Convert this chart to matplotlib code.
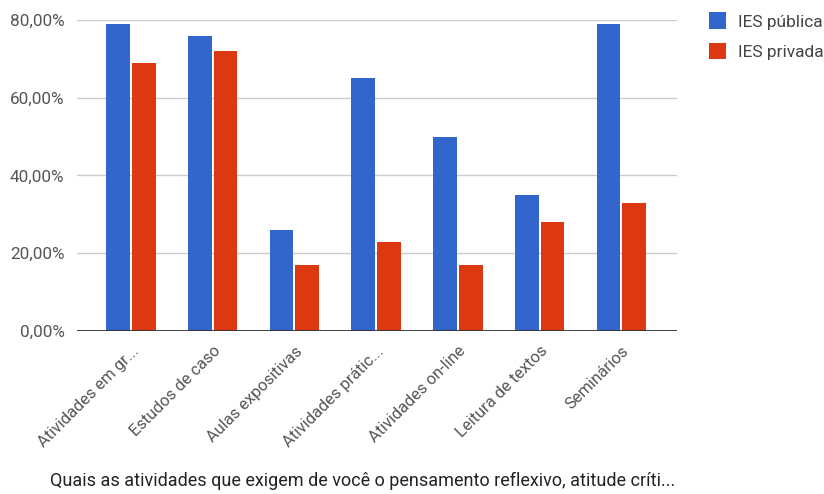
import matplotlib
matplotlib.use("Agg")
import matplotlib.pyplot as plt
import numpy as np
from matplotlib.ticker import FuncFormatter

categories = ["Atividades em gr...", "Estudos de caso", "Aulas expositivas",
              "Atividades prátic...", "Atividades on-line", "Leitura de textos",
              "Seminários"]
publica = [79, 76, 26, 65, 50, 35, 79]
privada = [69, 72, 17, 23, 17, 28, 33]
series_names = ["IES pública", "IES privada"]
x_title = "Quais as atividades que exigem de você o pensamento reflexivo, atitude críti..."

plt.rcParams['font.family'] = ['Roboto', 'DejaVu Sans']

fig = plt.figure(figsize=(8.24, 4.94), dpi=100)
ax = fig.add_axes([0.0934, 0.33, 0.7282, 0.6295])

x = np.arange(len(categories))
w = 0.29
ax.bar(x - w / 2 - 0.012, publica, w, color="#3366cc", label=series_names[0], zorder=3)
ax.bar(x + w / 2 + 0.012, privada, w, color="#dc3912", label=series_names[1], zorder=3)

ax.set_xlim(-0.66, len(categories) - 1 + 0.68)
ax.set_ylim(0, 80)
ax.set_yticks([0, 20, 40, 60, 80])
ax.yaxis.set_major_formatter(FuncFormatter(lambda v, p: ("%.2f%%" % v).replace(".", ",")))
ax.grid(axis="y", color="#cccccc", linewidth=1, zorder=0)
ax.axhline(0, color="#333333", linewidth=1.3, zorder=4)

for s in ax.spines.values():
    s.set_visible(False)
ax.tick_params(axis="both", length=0, colors="#555555")
ax.tick_params(axis="y", pad=9, labelsize=12.3)
ax.set_xticks(x)
ax.set_xticklabels(categories, rotation=45, ha="right", rotation_mode="anchor")
ax.tick_params(axis="x", pad=9, labelsize=11.8)

ax.legend(loc="upper left", bbox_to_anchor=(1.028, 1.075), frameon=False,
          fontsize=12.5, handlelength=0.95, handleheight=1.1, labelspacing=0.75,
          handletextpad=0.7, labelcolor="#444444")

fig.text(0.4405, 0.026, x_title, ha="center", va="center", fontsize=13, color="#222222")

fig.savefig("out.png", dpi=100)
